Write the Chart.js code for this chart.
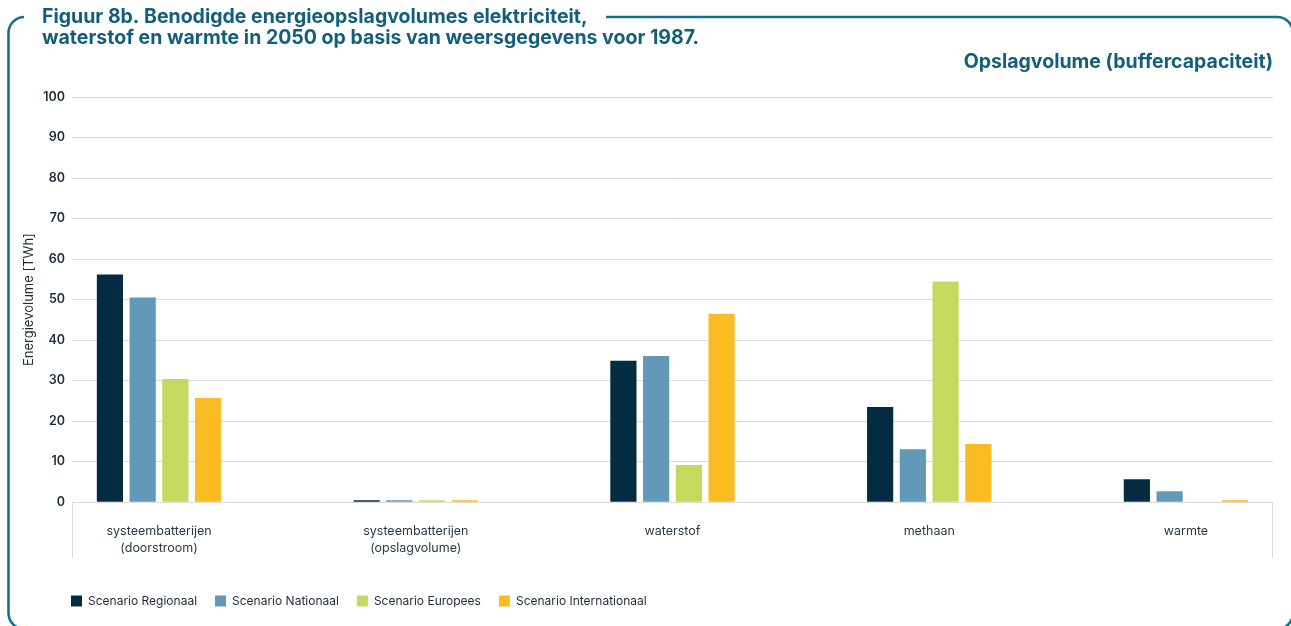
<!DOCTYPE html>
<html><head><meta charset="utf-8">
<script src="https://cdn.jsdelivr.net/npm/chart.js@4/dist/chart.umd.min.js"></script>
<style>html,body{margin:0;padding:0;background:#fff;}</style>
</head><body>
<canvas id="c" width="1291" height="626" style="display:block;width:1291px;height:626px"></canvas>
<script>
const categories = [["systeembatterijen","(doorstroom)"],["systeembatterijen","(opslagvolume)"],["waterstof"],["methaan"],["warmte"]];
const seriesNames = ["Scenario Regionaal","Scenario Nationaal","Scenario Europees","Scenario Internationaal"];
const regionaal = [56.2, 0.5, 34.9, 23.5, 5.7];
const nationaal = [50.5, 0.5, 36.1, 13.1, 2.7];
const europees = [30.4, 0.5, 9.2, 54.5, 0];
const internationaal = [25.7, 0.5, 46.5, 14.4, 0.5];
const yTicks = [0, 10, 20, 30, 40, 50, 60, 70, 80, 90, 100];
const titleLines = ["Figuur 8b. Benodigde energieopslagvolumes elektriciteit,", "waterstof en warmte in 2050 op basis van weersgegevens voor 1987."];
const subtitleText = "Opslagvolume (buffercapaciteit)";
const yTitle = "Energievolume [TWh]";

const colors = ["#032c42", "#6299b8", "#c6d95e", "#fbbb22"];
const seriesValues = [regionaal, nationaal, europees, internationaal];
const FONT = "Inter, 'Open Sans', 'DejaVu Sans', sans-serif";
const TEAL = "#135e7a";
const FRAME = "#16708e";

const datasets = seriesNames.map((name, s) => ({
  label: name,
  data: seriesValues[s].map((v, i) => ({x: i, y: v})),
  backgroundColor: colors[s],
  borderWidth: 0,
  categoryPercentage: 0.51,
  barPercentage: 0.8
}));

const framePlugin = {
  id: 'frame',
  beforeDraw(chart) {
    const ctx = chart.ctx;
    ctx.save();
    ctx.strokeStyle = FRAME;
    ctx.lineWidth = 2.6;
    const l = 8.5, t = 17, r = 1293, b = 629, rad = 16;
    ctx.beginPath();
    ctx.moveTo(l + rad, t);
    ctx.lineTo(r - rad, t);
    ctx.arcTo(r, t, r, t + rad, rad);
    ctx.lineTo(r, b - rad);
    ctx.arcTo(r, b, r - rad, b, rad);
    ctx.lineTo(l + rad, b);
    ctx.arcTo(l, b, l, b - rad, rad);
    ctx.lineTo(l, t + rad);
    ctx.arcTo(l, t, l + rad, t, rad);
    ctx.closePath();
    ctx.stroke();
    ctx.fillStyle = '#ffffff';
    ctx.fillRect(24, 8, 582, 16);
    const ca = chart.chartArea;
    ctx.strokeStyle = '#d9d9d9';
    ctx.lineWidth = 1;
    ctx.beginPath();
    ctx.moveTo(ca.left + 0.5, ca.bottom);
    ctx.lineTo(ca.left + 0.5, ca.bottom + 55);
    ctx.moveTo(ca.right - 0.5, ca.bottom);
    ctx.lineTo(ca.right - 0.5, ca.bottom + 55);
    ctx.stroke();
    ctx.restore();
  }
};

const layoutTweak = {
  id: 'layoutTweak',
  afterLayout(chart) {
    chart.boxes.forEach(b => {
      if (b === chart.legend) {
        b.left = 71 - 18;
        b.top += 7; b.bottom += 7;
      } else if (b === chart.titleBlock) {
        b.left = 42;
      }
    });
  }
};

new Chart(document.getElementById('c'), {
  type: 'bar',
  data: { datasets },
  plugins: [framePlugin, layoutTweak],
  options: {
    responsive: false,
    animation: false,
    devicePixelRatio: 1,
    layout: { padding: { left: 17, right: 18, top: 0, bottom: 16 } },
    plugins: {
      title: {
        display: true, text: titleLines, align: 'start', color: TEAL,
        font: { family: FONT, size: 19.5, weight: '700', lineHeight: '21px' },
        padding: { top: 7, bottom: 2 }
      },
      subtitle: {
        display: true, text: subtitleText, align: 'end', color: TEAL,
        font: { family: FONT, size: 19.5, weight: '700', lineHeight: '20px' },
        padding: { top: 1, bottom: 25 }
      },
      legend: {
        position: 'bottom', align: 'start',
        labels: { boxWidth: 11, boxHeight: 11, padding: 18, color: '#1e2a36',
          font: { family: FONT, size: 12 } }
      },
      tooltip: { enabled: false }
    },
    scales: {
      x: {
        type: 'linear', min: -0.339, max: 4.339, offset: false,
        grid: { display: false, offset: false }, border: { display: false },
        ticks: {
          stepSize: 1, includeBounds: false, autoSkip: false, maxRotation: 0, padding: 13,
          color: '#2a3a48', font: { family: FONT, size: 12.5, lineHeight: 1.35 },
          callback: (v) => Number.isInteger(v) && categories[v] ? categories[v] : ''
        }
      },
      y: {
        min: 0, max: 100,
        afterFit(scale) { scale.width = 55; },
        afterBuildTicks(scale) { scale.ticks = yTicks.map(v => ({ value: v })); },
        grid: { color: '#dcdcdc', lineWidth: 1, drawTicks: false },
        border: { display: false },
        ticks: { padding: 7, color: '#1d2b38', font: { family: FONT, size: 12.5, weight: '600' } },
        title: { display: true, text: yTitle, color: '#1e2a36', font: { family: FONT, size: 13 } }
      }
    }
  }
});
</script>
</body></html>
